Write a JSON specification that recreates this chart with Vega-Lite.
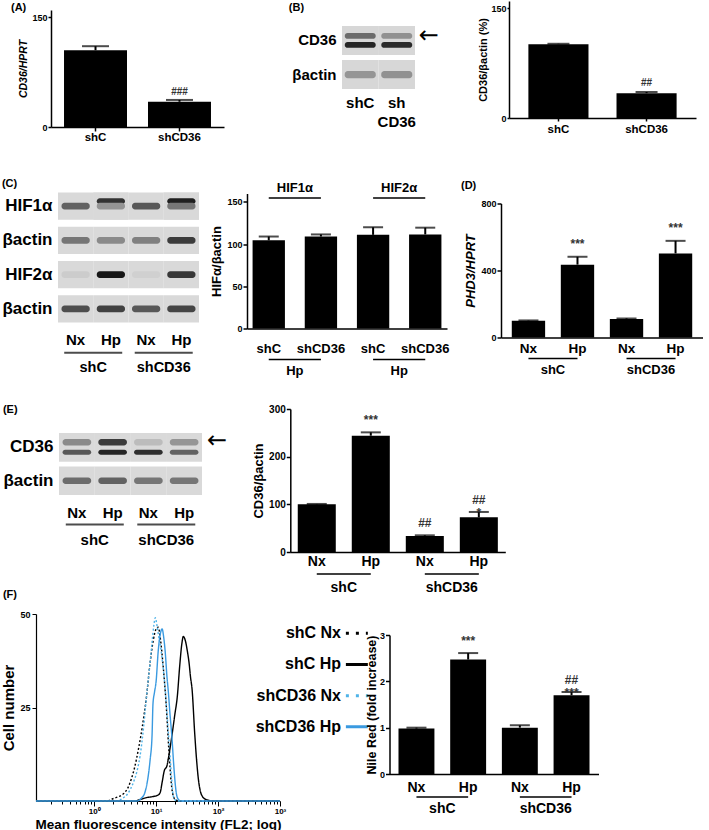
{
"$schema":"https://vega.github.io/schema/vega-lite/v6.json",
"padding":0,
"config":{
 "font":"Liberation Sans",
 "view":{"stroke":null},
 "axis":{"grid":false,"labelOverlap":false,"domainColor":"#000","tickColor":"#000","labelColor":"#000","titleColor":"#000","labelFontWeight":"bold","titleFontWeight":"bold","labelFont":"Liberation Sans","titleFont":"Liberation Sans"},
 "title":{"fontSize":11,"fontWeight":"bold","anchor":"start","frame":"bounds","color":"#000","font":"Liberation Sans"},
 "text":{"font":"Liberation Sans","fontWeight":"bold","color":"#000","baseline":"middle"}
},
"vconcat":[
 {"vconcat":[
  {"hconcat":[
   {"width":10,"height":1,"data":{"values":[]},"mark":"point"},
   {"hconcat":[
    {"vconcat":[
     {"width":1,"height":1,"data":{"values":[]},"mark":"point"},
     {"title":{"text":"(A)","offset":-2.5,"dx":-8},
      "width":173,"height":117,
      "data":{"values":[{"g":"shC","v":105,"hi":110.5,"sig":""},{"g":"shCD36","v":34.5,"hi":37,"sig":"###"}]},
      "encoding":{"x":{"field":"g","type":"nominal","scale":{"domain":["shC","shCD36"],"paddingInner":0.25,"paddingOuter":0.155},"axis":{"title":null,"labelAngle":0,"labelFontSize":11.5,"tickSize":4,"tickWidth":1.5,"domainWidth":1.5,"labelPadding":0}}},
      "layer":[
       {"mark":{"type":"bar","color":"#000"},"encoding":{"y":{"field":"v","type":"quantitative","scale":{"domain":[0,150]},"axis":{"title":"CD36/HPRT","titleFontStyle":"italic","values":[0,50,100,150],"labelOverlap":false,"labelFontSize":9,"tickSize":3,"tickWidth":1.5,"domainWidth":1.5,"labelPadding":1,"titleFontSize":10.5,"titlePadding":3}}}},
       {"mark":{"type":"rule","strokeWidth":2,"color":"#000"},"encoding":{"y":{"field":"v","type":"quantitative"},"y2":{"field":"hi"}}},
       {"mark":{"type":"tick","orient":"horizontal","size":27,"thickness":2,"color":"#000"},"encoding":{"y":{"field":"hi","type":"quantitative"}}},
       {"mark":{"type":"text","baseline":"bottom","dy":-3,"fontSize":10,"color":"#333"},"encoding":{"y":{"field":"hi","type":"quantitative"},"text":{"field":"sig"}}}
      ]}
    ],"spacing":0},
    {"hconcat":[
     {"vconcat":[
      {"width":1,"height":2,"data":{"values":[]},"mark":"point"},
      {"title":{"text":"(B)","offset":10.5,"dx":-3},
       "width":73,"height":63,
       "data":{"values":[
        {"lane":"shC","row":"CD36","pos":"upper","intensity":0.5},
        {"lane":"shC","row":"CD36","pos":"lower","intensity":0.88},
        {"lane":"shCD36","row":"CD36","pos":"upper","intensity":0.32},
        {"lane":"shCD36","row":"CD36","pos":"lower","intensity":0.85},
        {"lane":"shC","row":"βactin","pos":"mid","intensity":0.3},
        {"lane":"shCD36","row":"βactin","pos":"mid","intensity":0.32}]},
       "encoding":{
        "x":{"field":"lane","type":"nominal","scale":{"domain":["shC","shCD36"],"paddingInner":0,"paddingOuter":0},"axis":{"title":null,"domain":false,"ticks":false,"labelAngle":0,"labelFontSize":15,"labelPadding":6.5,"labelLineHeight":19,"labelExpr":"datum.value == 'shCD36' ? ['sh', 'CD36'] : datum.value"}},
        "y":{"field":"row","type":"nominal","scale":{"domain":["CD36","βactin"],"paddingInner":0.15,"paddingOuter":0},"axis":{"title":null,"domain":false,"ticks":false,"labelFontSize":15,"labelPadding":6}}},
       "layer":[
        {"mark":{"type":"rect","fill":"#d7d7d7"}},
        {"transform":[{"filter":"datum.pos == 'upper'"}],"mark":{"type":"rect","width":{"band":0.85},"height":{"band":0.2},"cornerRadius":3,"yOffset":-4.5},"encoding":{"fill":{"field":"intensity","type":"quantitative","scale":{"domain":[0,1],"range":["#d7d7d7","#111111"]},"legend":null}}},
        {"transform":[{"filter":"datum.pos == 'lower'"}],"mark":{"type":"rect","width":{"band":0.85},"height":{"band":0.2},"cornerRadius":3,"yOffset":4.5},"encoding":{"fill":{"field":"intensity","type":"quantitative","scale":{"domain":[0,1],"range":["#d7d7d7","#111111"]},"legend":null}}},
        {"transform":[{"filter":"datum.pos == 'mid'"}],"mark":{"type":"rect","width":{"band":0.85},"height":{"band":0.25},"cornerRadius":3},"encoding":{"fill":{"field":"intensity","type":"quantitative","scale":{"domain":[0,1],"range":["#d7d7d7","#111111"]},"legend":null}}},
        {"data":{"values":[{}]},"mark":{"type":"text","text":"←","dx":32,"dy":-4.5,"fontSize":24,"font":"DejaVu Sans","fontWeight":"normal"},"encoding":{"x":{"datum":"shCD36"},"y":{"datum":"CD36"}}}
       ]}
     ],"spacing":0},
     {"vconcat":[
      {"width":1,"height":0.5,"data":{"values":[]},"mark":"point"},
      {"width":187,"height":117,
       "data":{"values":[{"g":"shC","v":101,"hi":101.5,"sig":""},{"g":"shCD36","v":34,"hi":35.5,"sig":"##"}]},
       "encoding":{"x":{"field":"g","type":"nominal","scale":{"domain":["shC","shCD36"],"paddingInner":0.318,"paddingOuter":0.22},"axis":{"title":null,"labelAngle":0,"labelFontSize":11.5,"tickSize":3,"tickWidth":1.5,"domainWidth":1.5,"labelPadding":2}}},
       "layer":[
        {"mark":{"type":"bar","color":"#000"},"encoding":{"y":{"field":"v","type":"quantitative","scale":{"domain":[0,150]},"axis":{"title":"CD36/βactin (%)","values":[0,50,100,150],"labelOverlap":false,"labelFontSize":9,"tickSize":2,"tickWidth":1.5,"domainWidth":1.5,"labelPadding":1,"titleFontSize":11,"titlePadding":2}}}},
        {"mark":{"type":"rule","strokeWidth":2,"color":"#000"},"encoding":{"y":{"field":"v","type":"quantitative"},"y2":{"field":"hi"}}},
        {"mark":{"type":"tick","orient":"horizontal","size":22,"thickness":2,"color":"#000"},"encoding":{"y":{"field":"hi","type":"quantitative"}}},
        {"mark":{"type":"text","baseline":"bottom","dy":-4,"fontSize":10,"color":"#333"},"encoding":{"y":{"field":"hi","type":"quantitative"},"text":{"field":"sig"}}}
       ]}
     ],"spacing":0}
    ],"spacing":38}
   ],"spacing":64}
  ],"spacing":0},
  {"hconcat":[
   {"width":1,"height":1,"data":{"values":[]},"mark":"point"},
   {"hconcat":[
    {"vconcat":[
     {"width":1,"height":1,"data":{"values":[]},"mark":"point"},
     {"title":{"text":"(C)","offset":3.5},
      "width":141,"height":130,
      "data":{"values":[
       {"k":"shC Nx","row":"HIF1α","pos":"mid","intensity":0.55},
       {"k":"shC Hp","row":"HIF1α","pos":"upper","intensity":0.8},
       {"k":"shC Hp","row":"HIF1α","pos":"mid","intensity":0.3},
       {"k":"shCD36 Nx","row":"HIF1α","pos":"mid","intensity":0.6},
       {"k":"shCD36 Hp","row":"HIF1α","pos":"upper","intensity":0.92},
       {"k":"shCD36 Hp","row":"HIF1α","pos":"mid","intensity":0.45},
       {"k":"shC Nx","row":"βactin1","pos":"mid","intensity":0.45},
       {"k":"shC Hp","row":"βactin1","pos":"mid","intensity":0.35},
       {"k":"shCD36 Nx","row":"βactin1","pos":"mid","intensity":0.4},
       {"k":"shCD36 Hp","row":"βactin1","pos":"mid","intensity":0.75},
       {"k":"shC Nx","row":"HIF2α","pos":"mid","intensity":0.05},
       {"k":"shC Hp","row":"HIF2α","pos":"mid","intensity":0.97},
       {"k":"shCD36 Nx","row":"HIF2α","pos":"mid","intensity":0.03},
       {"k":"shCD36 Hp","row":"HIF2α","pos":"mid","intensity":0.78},
       {"k":"shC Nx","row":"βactin2","pos":"mid","intensity":0.65},
       {"k":"shC Hp","row":"βactin2","pos":"mid","intensity":0.72},
       {"k":"shCD36 Nx","row":"βactin2","pos":"mid","intensity":0.6},
       {"k":"shCD36 Hp","row":"βactin2","pos":"mid","intensity":0.7}]},
      "encoding":{
       "x":{"field":"k","type":"nominal","scale":{"domain":["shC Nx","shC Hp","shCD36 Nx","shCD36 Hp"],"paddingInner":0,"paddingOuter":0},"axis":{"title":null,"domain":false,"ticks":false,"labelAngle":0,"labelFontSize":15,"labelPadding":10,"labelExpr":"split(datum.value, ' ')[1]"}},
       "y":{"field":"row","type":"nominal","scale":{"domain":["HIF1α","βactin1","HIF2α","βactin2"],"paddingInner":0.2,"paddingOuter":0},"axis":{"title":null,"domain":false,"ticks":false,"labelFontSize":17,"labelPadding":6,"labelExpr":"replace(datum.value, /[12]$/, '')"}}},
      "layer":[
       {"mark":{"type":"rect","fill":"#d9d9d9"}},
       {"transform":[{"filter":"datum.pos == 'upper'"}],"mark":{"type":"rect","width":{"band":0.8},"height":{"band":0.22},"cornerRadius":3,"yOffset":-5},"encoding":{"fill":{"field":"intensity","type":"quantitative","scale":{"domain":[0,1],"range":["#d7d7d7","#111111"]},"legend":null}}},
       {"transform":[{"filter":"datum.pos == 'mid'"}],"mark":{"type":"rect","width":{"band":0.8},"height":{"band":0.25},"cornerRadius":3},"encoding":{"fill":{"field":"intensity","type":"quantitative","scale":{"domain":[0,1],"range":["#d7d7d7","#111111"]},"legend":null}}},
       {"data":{"values":[{"grp":"shC","first":"shC Nx"},{"grp":"shCD36","first":"shCD36 Nx"}]},"mark":{"type":"tick","orient":"horizontal","size":58,"thickness":2,"xOffset":17.6,"yOffset":44,"color":"#000"},"encoding":{"x":{"field":"first","type":"nominal"},"y":{"datum":"βactin2"}}},
       {"data":{"values":[{"grp":"shC","first":"shC Nx"},{"grp":"shCD36","first":"shCD36 Nx"}]},"mark":{"type":"text","dx":17.6,"dy":59,"fontSize":14.5},"encoding":{"x":{"field":"first","type":"nominal"},"y":{"datum":"βactin2"},"text":{"field":"grp"}}}
      ]}
    ],"spacing":0},
    {"vconcat":[
     {"width":1,"height":4.5,"data":{"values":[]},"mark":"point"},
     {"width":200,"height":135,
      "data":{"values":[
       {"k":"HIF1α shC","v":104.5,"hi":109},
       {"k":"HIF1α shCD36","v":109,"hi":111.5},
       {"k":"HIF2α shC","v":111,"hi":120},
       {"k":"HIF2α shCD36","v":111.5,"hi":119.5}]},
      "encoding":{"x":{"field":"k","type":"nominal","scale":{"domain":["HIF1α shC","HIF1α shCD36","HIF2α shC","HIF2α shCD36"],"paddingInner":0.38,"paddingOuter":0.107},"axis":{"title":null,"labelAngle":0,"ticks":false,"labelFontSize":13,"labelPadding":14,"domainWidth":1.5,"labelExpr":"split(datum.value, ' ')[1]"}}},
      "layer":[
       {"mark":{"type":"bar","color":"#000"},"encoding":{"y":{"field":"v","type":"quantitative","scale":{"domain":[0,150]},"axis":{"title":"HIFα/βactin","values":[0,50,100,150],"labelOverlap":false,"labelFontSize":9,"tickSize":4,"tickWidth":1.5,"domainWidth":1.5,"labelPadding":1,"titleFontSize":13,"titlePadding":3}}}},
       {"mark":{"type":"rule","strokeWidth":2,"color":"#000"},"encoding":{"y":{"field":"v","type":"quantitative"},"y2":{"field":"hi"}}},
       {"mark":{"type":"tick","orient":"horizontal","size":20,"thickness":2,"color":"#000"},"encoding":{"y":{"field":"hi","type":"quantitative"}}},
       {"data":{"values":[{"grp":"Hp","top":"HIF1α","first":"HIF1α shC","second":"HIF1α shCD36"},{"grp":"Hp","top":"HIF2α","first":"HIF2α shC","second":"HIF2α shCD36"}]},"mark":{"type":"rule","strokeWidth":1.5,"yOffset":31,"color":"#000"},"encoding":{"x":{"field":"first","type":"nominal"},"x2":{"field":"second"},"y":{"datum":0}}},
       {"data":{"values":[{"grp":"Hp","top":"HIF1α","first":"HIF1α shC","second":"HIF1α shCD36"},{"grp":"Hp","top":"HIF2α","first":"HIF2α shC","second":"HIF2α shCD36"}]},"mark":{"type":"text","dx":26.1,"dy":42,"fontSize":13},"encoding":{"x":{"field":"first","type":"nominal"},"y":{"datum":0},"text":{"field":"grp"}}},
       {"data":{"values":[{"grp":"Hp","top":"HIF1α","first":"HIF1α shC","second":"HIF1α shCD36"},{"grp":"Hp","top":"HIF2α","first":"HIF2α shC","second":"HIF2α shCD36"}]},"mark":{"type":"rule","strokeWidth":1.5,"yOffset":-4,"color":"#000"},"encoding":{"x":{"field":"first","type":"nominal"},"x2":{"field":"second"},"y":{"datum":150}}},
       {"data":{"values":[{"grp":"Hp","top":"HIF1α","first":"HIF1α shC","second":"HIF1α shCD36"},{"grp":"Hp","top":"HIF2α","first":"HIF2α shC","second":"HIF2α shCD36"}]},"mark":{"type":"text","dx":26.1,"dy":-14,"fontSize":13},"encoding":{"x":{"field":"first","type":"nominal"},"y":{"datum":150},"text":{"field":"top"}}}
      ]}
    ],"spacing":0},
    {"vconcat":[
     {"width":1,"height":2.5,"data":{"values":[]},"mark":"point"},
     {"title":{"text":"(D)","offset":8.25,"dx":-4},
      "width":202,"height":134,
      "data":{"values":[
       {"k":"shC Nx","v":100,"hi":102,"sig":""},
       {"k":"shC Hp","v":435,"hi":482,"sig":"***"},
       {"k":"shCD36 Nx","v":110,"hi":114,"sig":""},
       {"k":"shCD36 Hp","v":502,"hi":577,"sig":"***"}]},
      "encoding":{"x":{"field":"k","type":"nominal","scale":{"domain":["shC Nx","shC Hp","shCD36 Nx","shCD36 Hp"],"paddingInner":0.32,"paddingOuter":0.22},"axis":{"title":null,"labelAngle":0,"ticks":false,"labelFontSize":13.5,"labelPadding":4,"domainWidth":1.5,"labelExpr":"split(datum.value, ' ')[1]"}}},
      "layer":[
       {"mark":{"type":"bar","color":"#000"},"encoding":{"y":{"field":"v","type":"quantitative","scale":{"domain":[0,800]},"axis":{"title":"PHD3/HPRT","titleFontStyle":"italic","values":[0,200,400,600,800],"labelOverlap":false,"labelFontSize":9,"tickSize":4,"tickWidth":1.5,"domainWidth":1.5,"labelPadding":1,"titleFontSize":13,"titlePadding":3}}}},
       {"mark":{"type":"rule","strokeWidth":2,"color":"#000"},"encoding":{"y":{"field":"v","type":"quantitative"},"y2":{"field":"hi"}}},
       {"mark":{"type":"tick","orient":"horizontal","size":20,"thickness":2,"color":"#000"},"encoding":{"y":{"field":"hi","type":"quantitative"}}},
       {"mark":{"type":"text","baseline":"bottom","dy":-6,"fontSize":12,"color":"#333"},"encoding":{"y":{"field":"hi","type":"quantitative"},"text":{"field":"sig"}}},
       {"data":{"values":[{"grp":"shC","first":"shC Nx","second":"shC Hp"},{"grp":"shCD36","first":"shCD36 Nx","second":"shCD36 Hp"}]},"mark":{"type":"rule","strokeWidth":1.5,"yOffset":21,"color":"#000"},"encoding":{"x":{"field":"first","type":"nominal"},"x2":{"field":"second"},"y":{"datum":0}}},
       {"data":{"values":[{"grp":"shC","first":"shC Nx","second":"shC Hp"},{"grp":"shCD36","first":"shCD36 Nx","second":"shCD36 Hp"}]},"mark":{"type":"text","dx":24.5,"dy":32,"fontSize":13},"encoding":{"x":{"field":"first","type":"nominal"},"y":{"datum":0},"text":{"field":"grp"}}}
      ]}
    ],"spacing":0}
   ],"spacing":11}
  ],"spacing":0}
 ],"spacing":33.5},
 {"vconcat":[
  {"hconcat":[
   {"width":1.6,"height":1,"data":{"values":[]},"mark":"point"},
   {"hconcat":[
    {"vconcat":[
     {"width":1,"height":0.5,"data":{"values":[]},"mark":"point"},
     {"title":{"text":"(E)","offset":14.5},
      "width":143,"height":62,
      "data":{"values":[
       {"k":"shC Nx","row":"CD36","pos":"upper","intensity":0.35},
       {"k":"shC Nx","row":"CD36","pos":"lower","intensity":0.6},
       {"k":"shC Hp","row":"CD36","pos":"upper","intensity":0.75},
       {"k":"shC Hp","row":"CD36","pos":"lower","intensity":0.88},
       {"k":"shCD36 Nx","row":"CD36","pos":"upper","intensity":0.12},
       {"k":"shCD36 Nx","row":"CD36","pos":"lower","intensity":0.82},
       {"k":"shCD36 Hp","row":"CD36","pos":"upper","intensity":0.3},
       {"k":"shCD36 Hp","row":"CD36","pos":"lower","intensity":0.55},
       {"k":"shC Nx","row":"βactin","pos":"mid","intensity":0.5},
       {"k":"shC Hp","row":"βactin","pos":"mid","intensity":0.55},
       {"k":"shCD36 Nx","row":"βactin","pos":"mid","intensity":0.45},
       {"k":"shCD36 Hp","row":"βactin","pos":"mid","intensity":0.45}]},
      "encoding":{
       "x":{"field":"k","type":"nominal","scale":{"domain":["shC Nx","shC Hp","shCD36 Nx","shCD36 Hp"],"paddingInner":0,"paddingOuter":0},"axis":{"title":null,"domain":false,"ticks":false,"labelAngle":0,"labelFontSize":15,"labelPadding":10,"labelExpr":"split(datum.value, ' ')[1]"}},
       "y":{"field":"row","type":"nominal","scale":{"domain":["CD36","βactin"],"paddingInner":0.15,"paddingOuter":0},"axis":{"title":null,"domain":false,"ticks":false,"labelFontSize":17,"labelPadding":6}}},
      "layer":[
       {"mark":{"type":"rect","fill":"#d9d9d9"}},
       {"transform":[{"filter":"datum.pos == 'upper'"}],"mark":{"type":"rect","width":{"band":0.8},"height":{"band":0.22},"cornerRadius":3,"yOffset":-5},"encoding":{"fill":{"field":"intensity","type":"quantitative","scale":{"domain":[0,1],"range":["#d7d7d7","#111111"]},"legend":null}}},
       {"transform":[{"filter":"datum.pos == 'lower'"}],"mark":{"type":"rect","width":{"band":0.8},"height":{"band":0.18},"cornerRadius":3,"yOffset":5},"encoding":{"fill":{"field":"intensity","type":"quantitative","scale":{"domain":[0,1],"range":["#d7d7d7","#111111"]},"legend":null}}},
       {"transform":[{"filter":"datum.pos == 'mid'"}],"mark":{"type":"rect","width":{"band":0.8},"height":{"band":0.22},"cornerRadius":3},"encoding":{"fill":{"field":"intensity","type":"quantitative","scale":{"domain":[0,1],"range":["#d7d7d7","#111111"]},"legend":null}}},
       {"data":{"values":[{"grp":"shC","first":"shC Nx"},{"grp":"shCD36","first":"shCD36 Nx"}]},"mark":{"type":"tick","orient":"horizontal","size":58,"thickness":2,"xOffset":17.9,"yOffset":43.7,"color":"#000"},"encoding":{"x":{"field":"first","type":"nominal"},"y":{"datum":"βactin"}}},
       {"data":{"values":[{"grp":"shC","first":"shC Nx"},{"grp":"shCD36","first":"shCD36 Nx"}]},"mark":{"type":"text","dx":17.9,"dy":59,"fontSize":15},"encoding":{"x":{"field":"first","type":"nominal"},"y":{"datum":"βactin"},"text":{"field":"grp"}}},
       {"data":{"values":[{}]},"mark":{"type":"text","text":"←","dx":33,"dy":-6,"fontSize":24,"font":"DejaVu Sans","fontWeight":"normal"},"encoding":{"x":{"datum":"shCD36 Hp"},"y":{"datum":"CD36"}}},
       {"data":{"values":[{"panel":"(F)"}]},"mark":{"type":"text","align":"left","dx":-74,"dy":114,"fontSize":11},"encoding":{"x":{"datum":"shC Nx"},"y":{"datum":"βactin"},"text":{"field":"panel"}}}
      ]}
    ],"spacing":0},
    {"vconcat":[
     {"width":1,"height":2,"data":{"values":[]},"mark":"point"},
     {"width":215,"height":143,
      "data":{"values":[
       {"k":"shC Nx","v":100,"hi":100.8,"sig":""},
       {"k":"shC Hp","v":244,"hi":251,"sig":"***"},
       {"k":"shCD36 Nx","v":33.6,"hi":35,"sig":"##"},
       {"k":"shCD36 Hp","v":72.7,"hi":84,"sig":"##\n*"}]},
      "encoding":{"x":{"field":"k","type":"nominal","scale":{"domain":["shC Nx","shC Hp","shCD36 Nx","shCD36 Hp"],"paddingInner":0.296,"paddingOuter":0.138},"axis":{"title":null,"labelAngle":0,"ticks":false,"labelFontSize":14,"labelPadding":2,"domainWidth":1.5,"labelExpr":"split(datum.value, ' ')[1]"}}},
      "layer":[
       {"mark":{"type":"bar","color":"#000"},"encoding":{"y":{"field":"v","type":"quantitative","scale":{"domain":[0,300]},"axis":{"title":"CD36/βactin","values":[0,100,200,300],"labelOverlap":false,"labelFontSize":10,"tickSize":4,"tickWidth":1.5,"domainWidth":1.5,"labelPadding":1,"titleFontSize":13,"titlePadding":3}}}},
       {"mark":{"type":"rule","strokeWidth":2,"color":"#000"},"encoding":{"y":{"field":"v","type":"quantitative"},"y2":{"field":"hi"}}},
       {"mark":{"type":"tick","orient":"horizontal","size":20,"thickness":2,"color":"#000"},"encoding":{"y":{"field":"hi","type":"quantitative"}}},
       {"mark":{"type":"text","baseline":"bottom","dy":-5,"fontSize":12,"lineBreak":"\n","lineHeight":13,"color":"#333"},"encoding":{"y":{"field":"hi","type":"quantitative"},"text":{"field":"sig"}}},
       {"data":{"values":[{"grp":"shC","first":"shC Nx","second":"shC Hp"},{"grp":"shCD36","first":"shCD36 Nx","second":"shCD36 Hp"}]},"mark":{"type":"rule","strokeWidth":1.5,"yOffset":22,"color":"#000"},"encoding":{"x":{"field":"first","type":"nominal"},"x2":{"field":"second"},"y":{"datum":0}}},
       {"data":{"values":[{"grp":"shC","first":"shC Nx","second":"shC Hp"},{"grp":"shCD36","first":"shCD36 Nx","second":"shCD36 Hp"}]},"mark":{"type":"text","dx":27,"dy":36,"fontSize":14},"encoding":{"x":{"field":"first","type":"nominal"},"y":{"datum":0},"text":{"field":"grp"}}}
      ]}
    ],"spacing":0}
   ],"spacing":24.3}
  ],"spacing":0},
  {"hconcat":[
   {"width":1,"height":1,"data":{"values":[]},"mark":"point"},
   {"hconcat":[
    {"vconcat":[
     {"width":1,"height":10,"data":{"values":[]},"mark":"point"},
     {"width":244,"height":187,
      "layer":[
       {"data":{"values":[
        {"series":"shC Nx","mfi":0.115,"count":0},{"series":"shC Nx","mfi":1.6,"count":0},{"series":"shC Nx","mfi":2.0,"count":0.6},{"series":"shC Nx","mfi":2.5,"count":1.2},{"series":"shC Nx","mfi":3.0,"count":2},{"series":"shC Nx","mfi":3.5,"count":3.5},{"series":"shC Nx","mfi":4.0,"count":6},{"series":"shC Nx","mfi":4.5,"count":9},{"series":"shC Nx","mfi":5.2,"count":14},{"series":"shC Nx","mfi":6.0,"count":20},{"series":"shC Nx","mfi":7.0,"count":28},{"series":"shC Nx","mfi":8.0,"count":37},{"series":"shC Nx","mfi":9.0,"count":43},{"series":"shC Nx","mfi":10.0,"count":46},{"series":"shC Nx","mfi":10.8,"count":46.5},{"series":"shC Nx","mfi":11.8,"count":43},{"series":"shC Nx","mfi":13.0,"count":36},{"series":"shC Nx","mfi":14.5,"count":26},{"series":"shC Nx","mfi":16.0,"count":14},{"series":"shC Nx","mfi":17.5,"count":5},{"series":"shC Nx","mfi":19.0,"count":1.2},{"series":"shC Nx","mfi":21,"count":0.2},{"series":"shC Nx","mfi":25,"count":0},{"series":"shC Nx","mfi":1000,"count":0},
        {"series":"shCD36 Nx","mfi":0.115,"count":0},{"series":"shCD36 Nx","mfi":2.4,"count":0},{"series":"shCD36 Nx","mfi":2.8,"count":0.6},{"series":"shCD36 Nx","mfi":3.5,"count":2},{"series":"shCD36 Nx","mfi":4.3,"count":5},{"series":"shCD36 Nx","mfi":5.0,"count":8.5},{"series":"shCD36 Nx","mfi":5.5,"count":12},{"series":"shCD36 Nx","mfi":6.3,"count":20},{"series":"shCD36 Nx","mfi":7.2,"count":30},{"series":"shCD36 Nx","mfi":8.0,"count":37},{"series":"shCD36 Nx","mfi":8.6,"count":42.5},{"series":"shCD36 Nx","mfi":9.2,"count":47},{"series":"shCD36 Nx","mfi":9.7,"count":49},{"series":"shCD36 Nx","mfi":10.3,"count":47},{"series":"shCD36 Nx","mfi":11.0,"count":44},{"series":"shCD36 Nx","mfi":11.6,"count":42},{"series":"shCD36 Nx","mfi":12.5,"count":38},{"series":"shCD36 Nx","mfi":14.0,"count":30},{"series":"shCD36 Nx","mfi":15.5,"count":20},{"series":"shCD36 Nx","mfi":16.8,"count":12},{"series":"shCD36 Nx","mfi":18.0,"count":5},{"series":"shCD36 Nx","mfi":18.8,"count":1.6},{"series":"shCD36 Nx","mfi":20,"count":0.4},{"series":"shCD36 Nx","mfi":22,"count":0},{"series":"shCD36 Nx","mfi":1000,"count":0},
        {"series":"shC Hp","mfi":0.115,"count":0},{"series":"shC Hp","mfi":4.5,"count":0},{"series":"shC Hp","mfi":5.5,"count":0.4},{"series":"shC Hp","mfi":7,"count":0.9},{"series":"shC Hp","mfi":9,"count":1.2},{"series":"shC Hp","mfi":10.5,"count":1.5},{"series":"shC Hp","mfi":11.6,"count":2.2},{"series":"shC Hp","mfi":12.5,"count":5},{"series":"shC Hp","mfi":13.5,"count":8},{"series":"shC Hp","mfi":15,"count":9.5},{"series":"shC Hp","mfi":16,"count":12},{"series":"shC Hp","mfi":18,"count":17.5},{"series":"shC Hp","mfi":20,"count":23},{"series":"shC Hp","mfi":22,"count":28},{"series":"shC Hp","mfi":24,"count":36},{"series":"shC Hp","mfi":26,"count":42},{"series":"shC Hp","mfi":27.5,"count":44},{"series":"shC Hp","mfi":29.5,"count":43},{"series":"shC Hp","mfi":32,"count":40},{"series":"shC Hp","mfi":34,"count":37},{"series":"shC Hp","mfi":36,"count":33},{"series":"shC Hp","mfi":38,"count":30},{"series":"shC Hp","mfi":42,"count":18},{"series":"shC Hp","mfi":45,"count":11},{"series":"shC Hp","mfi":48,"count":6},{"series":"shC Hp","mfi":52,"count":2.5},{"series":"shC Hp","mfi":56,"count":1.2},{"series":"shC Hp","mfi":62,"count":0.5},{"series":"shC Hp","mfi":70,"count":0.2},{"series":"shC Hp","mfi":80,"count":0},{"series":"shC Hp","mfi":1000,"count":0},
        {"series":"shCD36 Hp","mfi":0.115,"count":0},{"series":"shCD36 Hp","mfi":5.0,"count":0},{"series":"shCD36 Hp","mfi":5.8,"count":0.8},{"series":"shCD36 Hp","mfi":6.5,"count":2},{"series":"shCD36 Hp","mfi":7.0,"count":4},{"series":"shCD36 Hp","mfi":7.5,"count":7},{"series":"shCD36 Hp","mfi":8.0,"count":11},{"series":"shCD36 Hp","mfi":8.6,"count":17.6},{"series":"shCD36 Hp","mfi":8.9,"count":26},{"series":"shCD36 Hp","mfi":9.4,"count":29},{"series":"shCD36 Hp","mfi":10.0,"count":32},{"series":"shCD36 Hp","mfi":10.8,"count":40},{"series":"shCD36 Hp","mfi":11.8,"count":45},{"series":"shCD36 Hp","mfi":12.5,"count":46},{"series":"shCD36 Hp","mfi":13.2,"count":44},{"series":"shCD36 Hp","mfi":14.0,"count":40},{"series":"shCD36 Hp","mfi":15.0,"count":33},{"series":"shCD36 Hp","mfi":15.6,"count":30},{"series":"shCD36 Hp","mfi":16.8,"count":23},{"series":"shCD36 Hp","mfi":18.0,"count":17},{"series":"shCD36 Hp","mfi":19.0,"count":11},{"series":"shCD36 Hp","mfi":20.0,"count":6},{"series":"shCD36 Hp","mfi":21.0,"count":2.5},{"series":"shCD36 Hp","mfi":22.5,"count":0.6},{"series":"shCD36 Hp","mfi":25,"count":0},{"series":"shCD36 Hp","mfi":1000,"count":0}
       ]},
        "mark":{"type":"line","strokeWidth":1.4,"interpolate":"monotone"},
        "encoding":{
         "x":{"field":"mfi","type":"quantitative","scale":{"type":"log","domain":[0.115,1000],"nice":false},"axis":{"title":"Mean fluorescence intensity (FL2; log)","titleFontSize":13.5,"titlePadding":2,"values":[0.2,0.3,0.4,0.5,0.6,0.7,0.8,0.9,1,2,3,4,5,6,7,8,9,10,20,30,40,50,60,70,80,90,100,200,300,400,500,600,700,800,900,1000],"labelExpr":"datum.value == 1 ? '10⁰' : datum.value == 10 ? '10¹' : datum.value == 100 ? '10²' : datum.value == 1000 ? '10³' : ''","labelFontSize":8,"labelFlush":false,"tickSize":{"condition":{"test":"datum.value == 1 || datum.value == 10 || datum.value == 100 || datum.value == 1000","value":5},"value":3},"domainWidth":1.2,"labelPadding":1}},
         "y":{"field":"count","type":"quantitative","scale":{"domain":[0,50]},"axis":{"title":"Cell number","titleFontSize":15,"values":[25,50],"labelFontSize":9,"tickSize":4,"domainWidth":1.2,"labelPadding":2,"titlePadding":3}},
         "stroke":{"field":"series","type":"nominal","scale":{"domain":["shC Nx","shC Hp","shCD36 Nx","shCD36 Hp"],"range":["#000000","#000000","#4fb3e8","#3a9ae0"]},"legend":null},
         "strokeDash":{"field":"series","type":"nominal","scale":{"domain":["shC Nx","shC Hp","shCD36 Nx","shCD36 Hp"],"range":[[2,2],[1,0],[2,2],[1,0]]},"legend":null}}},
       {"data":{"values":[{"series":"shC Nx"},{"series":"shC Hp"},{"series":"shCD36 Nx"},{"series":"shCD36 Hp"}]},
        "mark":{"type":"text","align":"right","fontSize":16},
        "encoding":{"x":{"datum":1.25,"type":"quantitative","scale":{"domain":[0,1]},"axis":null},"y":{"field":"series","type":"nominal","scale":{"type":"band","domain":["shC Nx","shC Hp","shCD36 Nx","shCD36 Hp"],"paddingInner":0,"paddingOuter":2.675,"align":0.06},"axis":null},"text":{"field":"series"}}},
       {"data":{"values":[{"series":"shC Nx"},{"series":"shC Hp"},{"series":"shCD36 Nx"},{"series":"shCD36 Hp"}]},
        "mark":{"type":"rule","strokeWidth":3},
        "encoding":{"x":{"datum":1.27,"type":"quantitative","scale":{"domain":[0,1]},"axis":null},"x2":{"datum":1.36},"y":{"field":"series","type":"nominal","scale":{"type":"band","domain":["shC Nx","shC Hp","shCD36 Nx","shCD36 Hp"],"paddingInner":0,"paddingOuter":2.675,"align":0.06},"axis":null},
         "stroke":{"field":"series","type":"nominal","scale":{"domain":["shC Nx","shC Hp","shCD36 Nx","shCD36 Hp"],"range":["#000000","#000000","#4fb3e8","#3a9ae0"]},"legend":null},
         "strokeDash":{"field":"series","type":"nominal","scale":{"domain":["shC Nx","shC Hp","shCD36 Nx","shCD36 Hp"],"range":[[3,7],[1,0],[3,7],[1,0]]},"legend":null}}}
      ],
      "resolve":{"scale":{"x":"independent","y":"independent","strokeDash":"independent"},"axis":{"x":"independent","y":"independent"}}}
    ],"spacing":0},
    {"vconcat":[
     {"width":1,"height":31,"data":{"values":[]},"mark":"point"},
     {"width":209,"height":139,
      "data":{"values":[
       {"k":"shC Nx","v":0.98,"hi":1.0,"sig":""},
       {"k":"shC Hp","v":2.47,"hi":2.61,"sig":"***"},
       {"k":"shCD36 Nx","v":1.0,"hi":1.05,"sig":""},
       {"k":"shCD36 Hp","v":1.7,"hi":1.77,"sig":"##\n***"}]},
      "encoding":{"x":{"field":"k","type":"nominal","scale":{"domain":["shC Nx","shC Hp","shCD36 Nx","shCD36 Hp"],"paddingInner":0.305,"paddingOuter":0.174},"axis":{"title":null,"labelAngle":0,"ticks":false,"labelFontSize":14,"labelPadding":6,"domainWidth":1.5,"labelExpr":"split(datum.value, ' ')[1]"}}},
      "layer":[
       {"mark":{"type":"bar","color":"#000"},"encoding":{"y":{"field":"v","type":"quantitative","scale":{"domain":[0,3]},"axis":{"title":"Nile Red (fold increase)","values":[0,1,2,3],"labelOverlap":false,"labelFontSize":9,"tickSize":4,"tickWidth":1.5,"domainWidth":1.5,"labelPadding":1,"titleFontSize":12.5,"titlePadding":1}}}},
       {"mark":{"type":"rule","strokeWidth":2,"color":"#000"},"encoding":{"y":{"field":"v","type":"quantitative"},"y2":{"field":"hi"}}},
       {"mark":{"type":"tick","orient":"horizontal","size":20,"thickness":2,"color":"#000"},"encoding":{"y":{"field":"hi","type":"quantitative"}}},
       {"mark":{"type":"text","baseline":"bottom","dy":-5,"fontSize":12,"lineBreak":"\n","lineHeight":13,"color":"#333"},"encoding":{"y":{"field":"hi","type":"quantitative"},"text":{"field":"sig"}}},
       {"data":{"values":[{"grp":"shC","first":"shC Nx","second":"shC Hp"},{"grp":"shCD36","first":"shCD36 Nx","second":"shCD36 Hp"}]},"mark":{"type":"rule","strokeWidth":1.5,"yOffset":23,"color":"#000"},"encoding":{"x":{"field":"first","type":"nominal"},"x2":{"field":"second"},"y":{"datum":0}}},
       {"data":{"values":[{"grp":"shC","first":"shC Nx","second":"shC Hp"},{"grp":"shCD36","first":"shCD36 Nx","second":"shCD36 Hp"}]},"mark":{"type":"text","dx":25.85,"dy":35,"fontSize":14},"encoding":{"x":{"field":"first","type":"nominal"},"y":{"datum":0},"text":{"field":"grp"}}}
      ]}
    ],"spacing":0}
   ],"spacing":-5.5}
  ],"spacing":0}
 ],"spacing":0}
],
"spacing":24
}
